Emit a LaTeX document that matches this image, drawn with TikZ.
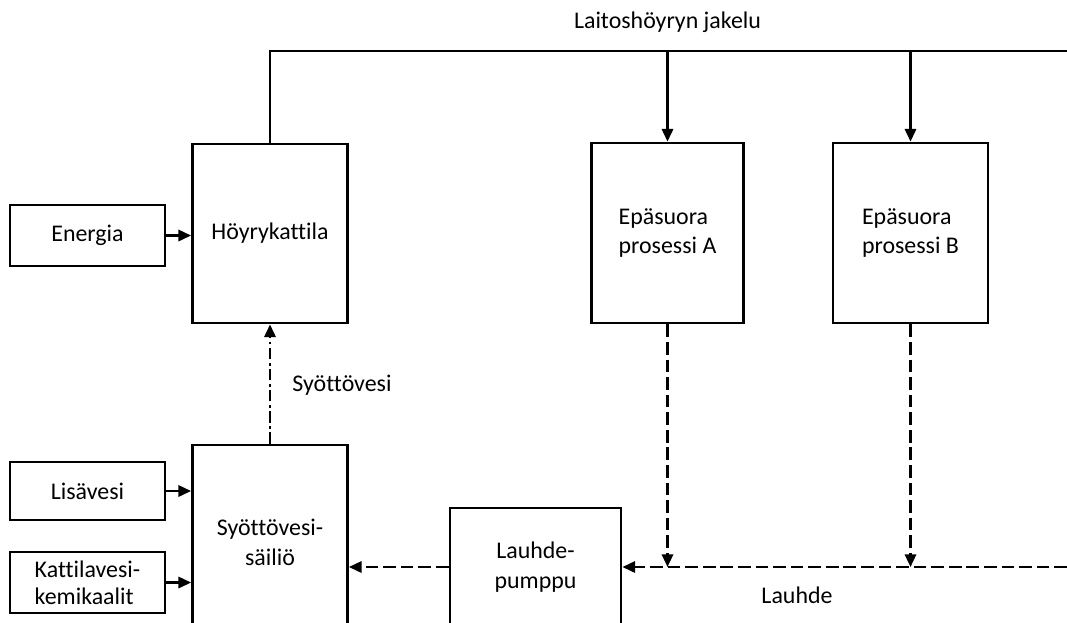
\documentclass[tikz,border=0pt]{standalone}
\usepackage{fontspec}
\setmainfont{Carlito}[Ligatures=NoCommon]
\usetikzlibrary{arrows.meta}
\begin{document}
\begin{tikzpicture}[
    plantBox/.style={draw=black,line width=2pt,inner sep=2pt,font=\fontsize{17}{21}\selectfont,align=left},
    plantArr/.style={-{Triangle[length=9pt,width=8pt]},line width=1.7pt},
    plantLine/.style={line width=1.7pt},
    plantDash/.style={plantArr,dash pattern=on 9pt off 3.5pt},
    plantDashDot/.style={plantArr,dash pattern=on 8pt off 2.5pt on 2pt off 2.5pt},
    plantLabel/.style={font=\fontsize{17}{21}\selectfont},
]
\useasboundingbox (0,0) rectangle (26.675,-15.55);
\clip (0,0) rectangle (26.675,-15.55);
\node[plantBox,minimum width=3.875cm,minimum height=1.525cm] (energia) at (2.1875,-5.8875) {Energia};
\node[plantBox,minimum width=3.875cm,minimum height=4.475cm] (kattila) at (6.75,-5.8375) {Höyrykattila};
\node[plantBox,minimum width=3.8cm,minimum height=4.5cm] (procA) at (16.6875,-5.825) {Epäsuora\\prosessi A};
\node[plantBox,minimum width=3.875cm,minimum height=4.5cm] (procB) at (22.7625,-5.825) {Epäsuora\\prosessi B};
\node[plantBox,minimum width=3.875cm,minimum height=1.45cm] (lisavesi) at (2.1875,-12.275) {Lisävesi};
\node[plantBox,minimum width=3.875cm,minimum height=1.525cm,font=\fontsize{17}{19}\selectfont] (kemikaalit) at (2.1875,-14.5625) {Kattilavesi-\\kemikaalit};
\node[plantBox,minimum width=3.875cm,minimum height=4.875cm,align=center] (tank) at (6.75,-13.5625) {Syöttövesi-\\säiliö};
\node[plantBox,minimum width=4.275cm,minimum height=2.95cm,align=center] (pump) at (13.3875,-14.175) {Lauhde-\\pumppu};
% steam distribution
\coordinate (jakeluL) at (6.75,-1.275);
\coordinate (jakeluR) at (26.675,-1.275);
\coordinate (lauhdeR) at (26.675,-14.175);
\draw[plantLine] (kattila.north) -- (jakeluL) -- (jakeluR);
\draw[plantArr] (procA.north |- jakeluL) -- (procA.north);
\draw[plantArr] (procB.north |- jakeluL) -- (procB.north);
\node[plantLabel] (jakelu) at (16.6875,-0.55) {Laitoshöyryn jakelu};
% inputs
\draw[plantArr] (energia.east) -- (kattila.west |- energia.east);
\draw[plantArr] (lisavesi.east) -- (tank.west |- lisavesi.east);
\draw[plantArr] (kemikaalit.east) -- (tank.west |- kemikaalit.east);
% feed water
\draw[plantDashDot] (tank.north) -- (kattila.south);
\node[plantLabel] (syotto) at (8.55,-9.625) {Syöttövesi};
% condensate return
\draw[plantDash] (procA.south) -- (procA.south |- pump.east);
\draw[plantDash] (procB.south) -- (procB.south |- pump.east);
\draw[plantDash] (lauhdeR) -- (pump.east);
\draw[plantDash] (pump.west) -- (tank.east |- pump.west);
\node[plantLabel] (lauhde) at (19.925,-14.875) {Lauhde};
\end{tikzpicture}
\end{document}
